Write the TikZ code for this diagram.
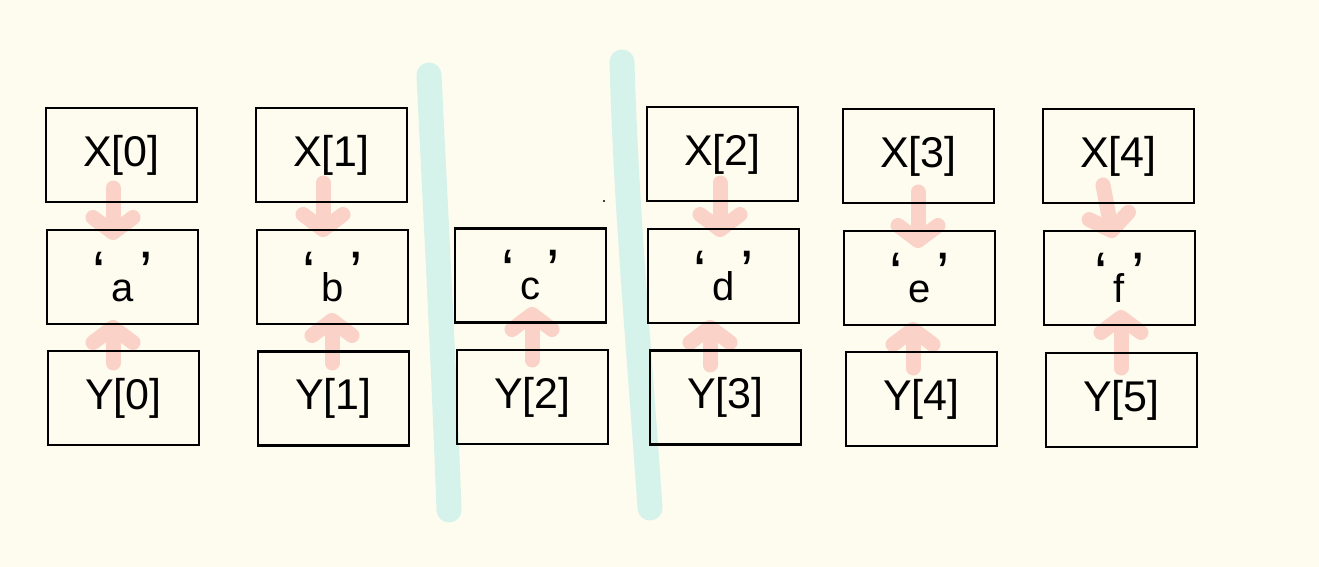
\documentclass[tikz,border=0pt]{standalone}
\usepackage{fontspec}
\setmainfont{Liberation Sans}
\usetikzlibrary{arrows.meta,calc}
\definecolor{bgcol}{HTML}{FEFCEF}
\definecolor{tealln}{HTML}{D6F3EB}
\definecolor{pinkar}{HTML}{FAD2C8}
\pgfdeclarelayer{bgl}
\pgfdeclarelayer{midl}
\pgfsetlayers{bgl,midl,main}
\newcommand\qlabel[1]{{\fontsize{60}{60}\selectfont ‘}\hspace{6pt}\raisebox{-8pt}{#1}\hspace{6pt}{\fontsize{60}{60}\selectfont ’}}
\begin{document}
\begin{tikzpicture}[x=1pt,y=-1pt,
  cell/.style={draw=black, line width=2.4pt, minimum width=151pt, minimum height=94pt, inner sep=0pt, font=\fontsize{43}{46}\selectfont},
  qcell/.style={cell, font=\fontsize{40}{44}\selectfont},
  parr/.style={draw=pinkar, line width=15pt, line cap=round, -{Straight Barb[length=15pt,width=40pt,round]}},
  divider/.style={draw=tealln, line width=25pt, line cap=round}]
\useasboundingbox (0,0) rectangle (1319,567);
\begin{pgfonlayer}{bgl}
  \fill[bgcol] (0,0) rectangle (1319,567);
  \draw[divider] (429,75) .. controls (436,220) and (444,370) .. (449,510);
  \draw[divider] (622,62) .. controls (626,210) and (640,360) .. (650,508);
\end{pgfonlayer}
% column 0
\node[cell]  (X0) at (121.5,155)   {X[0]};
\node[qcell] (a)  at (122.5,277)   {\qlabel{a}};
\node[cell]  (Y0) at (123.5,398)   {Y[0]};
% column 1
\node[cell]  (X1) at (331.5,155)   {X[1]};
\node[qcell] (b)  at (332.5,277)   {\qlabel{b}};
\node[cell]  (Y1) at (333.5,398.5) {Y[1]};
% column 2
\node[qcell] (c)  at (530.5,275.5) {\qlabel{c}};
\node[cell]  (Y2) at (532.5,397)   {Y[2]};
% column 3
\node[cell]  (X2) at (722.5,154)   {X[2]};
\node[qcell] (d)  at (723.5,276)   {\qlabel{d}};
\node[cell]  (Y3) at (725.5,397.5) {Y[3]};
% column 4
\node[cell]  (X3) at (918.5,156)   {X[3]};
\node[qcell] (e)  at (919.5,278)   {\qlabel{e}};
\node[cell]  (Y4) at (921.5,399)   {Y[4]};
% column 5
\node[cell]  (X4) at (1118.5,156)  {X[4]};
\node[qcell] (f)  at (1119.5,278)  {\qlabel{f}};
\node[cell]  (Y5) at (1121.5,400)  {Y[5]};
% stray dot
\fill (604,201) circle (1.2pt);
\begin{pgfonlayer}{midl}
  \draw[parr] ($(X0.center)+(-8.5,33)$)  -- ($(a.center)+(-9.5,-37)$);
  \draw[parr] ($(Y0.center)+(-10.5,-35)$) -- ($(a.center)+(-9.5,43)$);
  \draw[parr] ($(X1.center)+(-8.5,28)$)  -- ($(b.center)+(-9.5,-40)$);
  \draw[parr] ($(Y1.center)+(-1.5,-35.5)$) -- ($(b.center)+(-0.5,36)$);
  \draw[parr] ($(Y2.center)+(-0.5,-37)$) -- ($(c.center)+(1.5,31.5)$);
  \draw[parr] ($(X2.center)+(-2.5,29)$)  -- ($(d.center)+(-3.5,-39)$);
  \draw[parr] ($(Y3.center)+(-15.5,-32.5)$) -- ($(d.center)+(-13.5,44)$);
  \draw[parr] ($(X3.center)+(-0.5,36)$)  -- ($(e.center)+(-1.5,-30)$);
  \draw[parr] ($(Y4.center)+(-8.5,-31)$) -- ($(e.center)+(-6.5,44)$);
  \draw[parr] ($(X4.center)+(-15.5,29)$) -- ($(f.center)+(-6.5,-40)$);
  \draw[parr] ($(Y5.center)+(-0.5,-32)$) -- ($(f.center)+(1.5,32)$);
\end{pgfonlayer}
\end{tikzpicture}
\end{document}
